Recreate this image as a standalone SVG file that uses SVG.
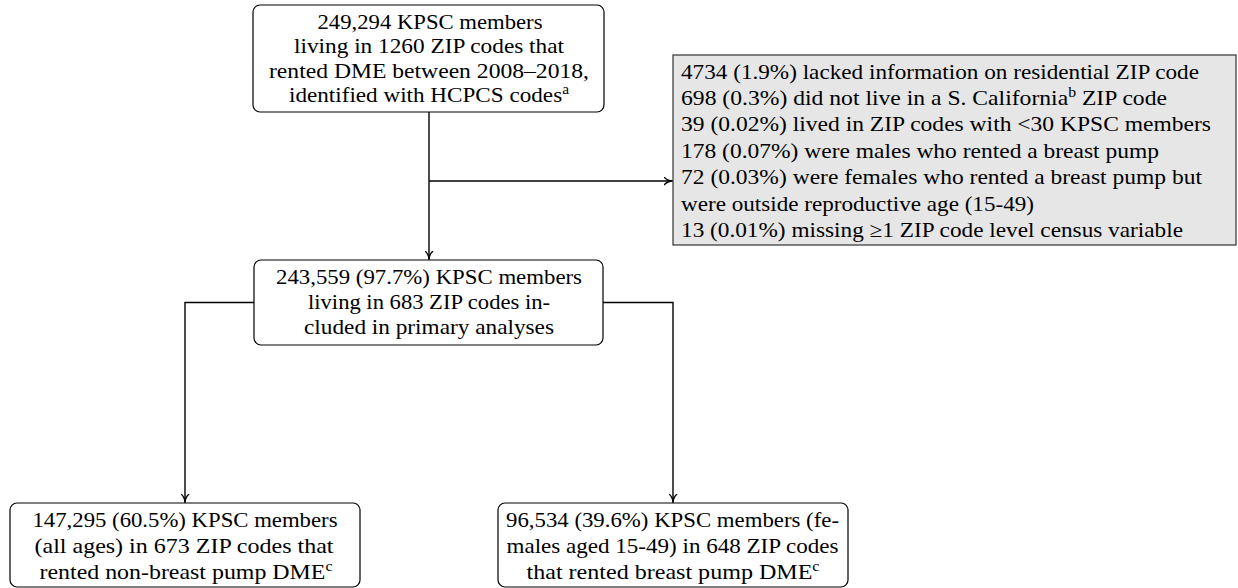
<svg xmlns="http://www.w3.org/2000/svg" width="1238" height="588" viewBox="0 0 1238 588" font-family="'Liberation Serif', 'DejaVu Serif', serif">
<style>
  text { font-family: "Liberation Serif", "DejaVu Serif", serif; font-size: 21px; fill: #000; }
  .c { text-anchor: middle; }
  .box { fill: #fff; stroke: #000; stroke-width: 1.2; }
  .gray { fill: #e6e6e6; stroke: #333; stroke-width: 1.2; }
  .wire { fill: none; stroke: #000; stroke-width: 1.4; }
  .sup { font-size: 14px; }
</style>
<defs>
  <marker id="arr" viewBox="0 0 10 10" refX="9" refY="5" markerWidth="9" markerHeight="9" markerUnits="userSpaceOnUse" orient="auto">
    <path d="M0,0.5 Q4,5 10,5 Q4,5 0,9.5" fill="none" stroke="#000" stroke-width="1.5"/>
  </marker>
</defs>
<g id="connectors">
  <path class="wire" d="M429,112 V259" marker-end="url(#arr)"/>
  <path class="wire" d="M429,181 H672" marker-end="url(#arr)"/>
  <path class="wire" d="M254,302.5 H185 V502" marker-end="url(#arr)"/>
  <path class="wire" d="M603,302.5 H673 V502" marker-end="url(#arr)"/>
</g>
<g id="node-start">
  <rect class="box" x="253" y="5" width="351" height="107" rx="7"/>
  <text class="c" x="430" y="28.5" textLength="225" lengthAdjust="spacingAndGlyphs">249,294 KPSC members</text>
  <text class="c" x="429" y="53" textLength="270" lengthAdjust="spacingAndGlyphs">living in 1260 ZIP codes that</text>
  <text class="c" x="429" y="77.5" textLength="320" lengthAdjust="spacingAndGlyphs">rented DME between 2008–2018,</text>
  <text class="c" x="429" y="102" textLength="280" lengthAdjust="spacingAndGlyphs">identified with HCPCS codes<tspan class="sup" dy="-8">a</tspan></text>
</g>
<g id="node-excluded">
  <rect class="gray" x="673" y="55" width="563" height="190"/>
  <text x="681" y="78.5" textLength="518" lengthAdjust="spacingAndGlyphs">4734 (1.9%) lacked information on residential ZIP code</text>
  <text x="681" y="104.9" textLength="486" lengthAdjust="spacingAndGlyphs">698 (0.3%) did not live in a S. California<tspan class="sup" dy="-8">b</tspan><tspan dy="8"> ZIP code</tspan></text>
  <text x="681" y="131.3" textLength="530" lengthAdjust="spacingAndGlyphs">39 (0.02%) lived in ZIP codes with &lt;30 KPSC members</text>
  <text x="681" y="157.7" textLength="478" lengthAdjust="spacingAndGlyphs">178 (0.07%) were males who rented a breast pump</text>
  <text x="681" y="184.1" textLength="521" lengthAdjust="spacingAndGlyphs">72 (0.03%) were females who rented a breast pump but</text>
  <text x="681" y="210.5" textLength="353" lengthAdjust="spacingAndGlyphs">were outside reproductive age (15-49)</text>
  <text x="681" y="236.9" textLength="502" lengthAdjust="spacingAndGlyphs">13 (0.01%) missing ≥1 ZIP code level census variable</text>
</g>
<g id="node-included">
  <rect class="box" x="254" y="260" width="349" height="85" rx="7"/>
  <text class="c" x="429" y="284" textLength="306" lengthAdjust="spacingAndGlyphs">243,559 (97.7%) KPSC members</text>
  <text class="c" x="429" y="309" textLength="242" lengthAdjust="spacingAndGlyphs">living in 683 ZIP codes in-</text>
  <text class="c" x="429" y="334" textLength="250" lengthAdjust="spacingAndGlyphs">cluded in primary analyses</text>
</g>
<g id="node-nonbreast">
  <rect class="box" x="10" y="503" width="350" height="84" rx="7"/>
  <text class="c" x="185" y="527" textLength="305" lengthAdjust="spacingAndGlyphs">147,295 (60.5%) KPSC members</text>
  <text class="c" x="184" y="553" textLength="299" lengthAdjust="spacingAndGlyphs">(all ages) in 673 ZIP codes that</text>
  <text class="c" x="186" y="579" textLength="293" lengthAdjust="spacingAndGlyphs">rented non-breast pump DME<tspan class="sup" dy="-8">c</tspan></text>
</g>
<g id="node-breast">
  <rect class="box" x="498" y="503" width="350" height="84" rx="7"/>
  <text class="c" x="672.5" y="527" textLength="333" lengthAdjust="spacingAndGlyphs">96,534 (39.6%) KPSC members (fe-</text>
  <text class="c" x="672.5" y="553" textLength="332" lengthAdjust="spacingAndGlyphs">males aged 15-49) in 648 ZIP codes</text>
  <text class="c" x="673" y="579" textLength="293" lengthAdjust="spacingAndGlyphs">that rented breast pump DME<tspan class="sup" dy="-8">c</tspan></text>
</g>
</svg>
